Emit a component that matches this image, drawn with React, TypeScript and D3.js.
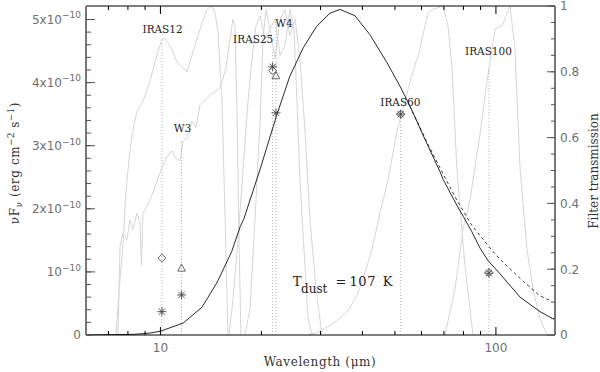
import React from 'react';
import * as d3 from 'd3';

// ---------- data (wavelength in micron) ----------
// filter transmission curves [wavelength, transmission]
const iras12Filter: [number, number][] = [
  [7.37, 0], [7.58, 0.17], [7.73, 0.27], [7.84, 0.39], [7.95, 0.47], [8.11, 0.56], [8.23, 0.61],
  [8.51, 0.68], [8.87, 0.71], [9.31, 0.77], [9.63, 0.83], [10.11, 0.9], [10.32, 0.9], [10.68, 0.88],
  [11.2, 0.83], [12.0, 0.8], [12.5, 0.86], [13.12, 0.93], [13.77, 0.99], [14.25, 1.0], [14.54, 0.98],
  [14.85, 0.92], [15.26, 0.71], [15.58, 0.36], [15.9, 0],
];
const w3Filter: [number, number][] = [
  [7.47, 0], [7.58, 0.27], [7.73, 0.31], [7.95, 0.29], [8.11, 0.35], [8.28, 0.32], [8.51, 0.37],
  [8.69, 0.34], [8.78, 0.21], [8.87, 0.37], [9.31, 0.41], [9.63, 0.45], [10.11, 0.51], [10.46, 0.54],
  [10.83, 0.56], [11.05, 0.54], [11.44, 0.53], [11.68, 0.59], [12.08, 0.6], [12.42, 0.65], [12.76, 0.63],
  [13.12, 0.7], [14.05, 0.73], [15.05, 0.75], [15.68, 0.81], [16.12, 0.9], [16.46, 0.96], [16.68, 0.94],
  [16.91, 0.68], [17.15, 0.29], [17.38, 0],
];
const iras25Filter: [number, number][] = [
  [16.01, 0], [16.46, 0.11], [17.03, 0.29], [17.62, 0.5], [18.24, 0.71], [18.75, 0.84], [19.27, 0.94],
  [19.81, 0.97], [20.5, 0.9], [21.21, 0.93], [21.95, 0.84], [22.72, 0.96], [23.51, 0.99], [24.33, 0.91],
  [25.18, 0.96], [26.06, 0.84], [26.97, 0.62], [27.91, 0.35], [29.09, 0.14], [30.31, 0],
];
const w4Filter: [number, number][] = [
  [17.87, 0], [18.49, 0.08], [19.14, 0.35], [19.81, 0.65], [20.22, 0.9], [20.64, 0.99], [21.21, 0.93],
  [21.95, 0.96], [22.72, 0.85], [23.51, 0.88], [24.33, 0.99], [25.01, 0.93], [25.53, 0.71], [26.06, 0.47],
  [26.79, 0.26], [27.53, 0.05], [28.3, 0],
];
const iras60Filter: [number, number][] = [
  [27.34, 0], [29.89, 0.01], [33.13, 0.04], [35.98, 0.07], [38.54, 0.12], [40.71, 0.19], [42.71, 0.26],
  [45.12, 0.37], [47.67, 0.47], [50.71, 0.62], [53.57, 0.71], [55.44, 0.77], [59.38, 0.87], [62.73, 0.98],
  [64.92, 0.99], [69.54, 1.0], [71.96, 0.94], [73.97, 0.81], [76.55, 0.5], [80.87, 0.21], [85.44, 0],
];
const iras100Filter: [number, number][] = [
  [70.5, 0], [75.5, 0.14], [79.77, 0.32], [83.7, 0.41], [89.64, 0.61], [94.06, 0.77], [99.37, 0.93],
  [104.25, 0.94], [110.14, 1.0], [113.98, 0.87], [117.96, 0.51], [123.77, 0.26], [128.97, 0.14],
  [135.32, 0.05], [141.97, 0],
];
const filterCurves = [iras12Filter, w3Filter, iras25Filter, w4Filter, iras60Filter, iras100Filter];

// model SED (nuF_nu in units of 1e-10 erg cm^-2 s^-1)
const sedSolid: [number, number][] = [
  [6.0, 0.0], [8.3, 0.01], [9.3, 0.03], [10.0, 0.06], [11.7, 0.19], [13.3, 0.44], [14.7, 0.82],
  [15.05, 0.93], [16.3, 1.32], [17.3, 1.72], [17.7, 1.83], [19.8, 2.62], [22.2, 3.48], [24.3, 4.1],
  [26.7, 4.56], [29.2, 4.89], [32.0, 5.1], [34.3, 5.16], [38.0, 5.06], [42.1, 4.76], [47.3, 4.32],
  [51.8, 3.94], [55.4, 3.63], [57.4, 3.45], [62.2, 3.04], [68.1, 2.59], [69.7, 2.46], [76.4, 2.06],
  [79.9, 1.88], [84.7, 1.64], [89.6, 1.38], [94.7, 1.18], [102.8, 0.97], [118.0, 0.6], [135.3, 0.37],
  [150.0, 0.24],
];
const sedDashed: [number, number][] = [
  [55.4, 3.63], [62.2, 3.06], [68.1, 2.65], [76.4, 2.14], [84.7, 1.74], [96.0, 1.38], [102.8, 1.2],
  [120.7, 0.85], [135.3, 0.62], [146.0, 0.54],
];

// photometry
const irasBands = ['IRAS12', 'IRAS25', 'IRAS60', 'IRAS100'];
const irasWave = [10.1, 21.6, 52, 95.3];
const irasObserved = [1.22, 4.19, 3.5, 0.99];
const irasModel = [0.37, 4.25, 3.5, 0.98];
const irasLabelWave = [10.15, 18.9, 51.9, 95.0];
const irasLabelFlux = [4.79, 4.62, 3.63, 4.43];
const irasGuideTop = [4.67, 4.52, 3.41, 4.2];

const wiseBands = ['W3', 'W4'];
const wiseWave = [11.56, 22.1];
const wiseObserved = [1.06, 4.11];
const wiseModel = [0.635, 3.52];
const wiseLabelWave = [11.63, 23.34];
const wiseLabelFlux = [3.21, 4.886];
const wiseGuideTop = [3.09, 4.83];

// axes
const fluxTicks = [0, 1, 2, 3, 4, 5];
const fluxTickMain = ['0', '10', '2x10', '3x10', '4x10', '5x10'];
const fluxTickExp = ['', '\u221210', '\u221210', '\u221210', '\u221210', '\u221210'];
const fluxMinorTicks = d3.range(0, 52, 2).map((v) => v / 10);
const transTicks = [0, 0.2, 0.4, 0.6, 0.8, 1];
const transTickLabels = ['0', '0.2', '0.4', '0.6', '0.8', '1'];
const transMinorTicks = d3.range(0, 21).map((v) => v / 20);
const waveTicks = [10, 100];
const waveTickLabels = ['10', '100'];
const waveMinorTicks = [7, 8, 9, 20, 30, 40, 50, 60, 70, 80, 90];

const W = 600;
const H = 372;
const L = 86, R = 555, T = 6, B = 335;

const serif = '"DejaVu Serif", serif';
const sans = '"DejaVu Sans", sans-serif';

function Asterisk({ cx, cy }: { cx: number; cy: number }) {
  const r = 4.5;
  return (
    <g stroke="#444" strokeWidth={0.9}>
      {[0, 45, 90, 135].map((a) => {
        const t = (a * Math.PI) / 180;
        return (
          <line key={a} x1={cx - r * Math.cos(t)} y1={cy - r * Math.sin(t)} x2={cx + r * Math.cos(t)} y2={cy + r * Math.sin(t)} />
        );
      })}
    </g>
  );
}

export default function App() {
  const x = d3.scaleLog().domain([6, 150]).range([L, R]);
  const yF = d3.scaleLinear().domain([0, 5.214]).range([B, T]);
  const yT = d3.scaleLinear().domain([0, 1]).range([B, T]);

  const filterLine = d3.line<[number, number]>().x((d) => x(d[0])).y((d) => yT(d[1]));
  const sedLine = d3.line<[number, number]>().x((d) => x(d[0])).y((d) => yF(d[1]));

  return (
    <svg width={W} height={H} style={{ position: 'fixed', left: 0, top: 0, background: '#fff' }}>
      <defs>
        <clipPath id="plot">
          <rect x={L} y={T} width={R - L} height={B - T} />
        </clipPath>
      </defs>
      <rect x={0} y={0} width={W} height={H} fill="#fff" />
      <g clipPath="url(#plot)">
        {filterCurves.map((c, i) => (
          <path key={i} d={filterLine(c) || ''} fill="none" stroke="#d6d6d6" strokeWidth={1} />
        ))}
        {irasWave.map((w, i) => (
          <line key={'gi' + i} x1={x(w)} x2={x(w)} y1={yF(0)} y2={yF(irasGuideTop[i])} stroke="#b5b5b5" strokeDasharray="1,2" />
        ))}
        {wiseWave.map((w, i) => (
          <line key={'gw' + i} x1={x(w)} x2={x(w)} y1={yF(0)} y2={yF(wiseGuideTop[i])} stroke="#b5b5b5" strokeDasharray="1,2" />
        ))}
        <path d={sedLine(sedDashed) || ''} fill="none" stroke="#222" strokeWidth={0.9} strokeDasharray="3,3" />
        <path d={sedLine(sedSolid) || ''} fill="none" stroke="#111" strokeWidth={0.9} />
      </g>

      {/* photometry */}
      {irasWave.map((w, i) => {
        const cx = x(w);
        const cy = yF(irasObserved[i]);
        return (
          <polygon key={'d' + i} points={`${cx},${cy - 4} ${cx + 4},${cy} ${cx},${cy + 4} ${cx - 4},${cy}`} fill="none" stroke="#555" strokeWidth={0.9} />
        );
      })}
      {wiseWave.map((w, i) => {
        const cx = x(w);
        const cy = yF(wiseObserved[i]);
        return (
          <polygon key={'t' + i} points={`${cx},${cy - 4} ${cx + 3.8},${cy + 3} ${cx - 3.8},${cy + 3}`} fill="none" stroke="#555" strokeWidth={0.9} />
        );
      })}
      {irasWave.map((w, i) => <Asterisk key={'ai' + i} cx={x(w)} cy={yF(irasModel[i])} />)}
      {wiseWave.map((w, i) => <Asterisk key={'aw' + i} cx={x(w)} cy={yF(wiseModel[i])} />)}

      {/* band labels */}
      {irasBands.map((b, i) => (
        <text key={b} x={x(irasLabelWave[i])} y={yF(irasLabelFlux[i])} textAnchor="middle" fontFamily={serif} fontSize={10.5} fill="#222">{b}</text>
      ))}
      {wiseBands.map((b, i) => (
        <text key={b} x={x(wiseLabelWave[i])} y={yF(wiseLabelFlux[i])} textAnchor="middle" fontFamily={serif} fontSize={10.5} fill="#222">{b}</text>
      ))}

      {/* T_dust annotation */}
      <g fontFamily={serif} fill="#222">
        <text x={292.7} y={286} fontSize={13}>T</text>
        <text x={301} y={292.5} fontSize={12}>dust</text>
        <text x={335.5} y={286} fontSize={13}>=</text>
        <text x={349.5} y={286} fontSize={13} letterSpacing={0.6}>107</text>
        <text x={382.7} y={286} fontSize={13}>K</text>
      </g>

      {/* frame */}
      <line x1={L} x2={R} y1={T} y2={T} stroke="#000" strokeWidth={1} />
      <line x1={L} x2={R} y1={B} y2={B} stroke="#000" strokeWidth={1} />
      <line x1={L} x2={L} y1={T} y2={B} stroke="#777" strokeWidth={2} />
      <line x1={R} x2={R} y1={T} y2={B} stroke="#777" strokeWidth={2} />

      {/* x ticks */}
      {waveTicks.map((w) => (
        <g key={'xt' + w} stroke="#000">
          <line x1={x(w)} x2={x(w)} y1={B} y2={B - 8} />
          <line x1={x(w)} x2={x(w)} y1={T} y2={T + 8} />
        </g>
      ))}
      {waveMinorTicks.map((w) => (
        <g key={'xm' + w} stroke="#000">
          <line x1={x(w)} x2={x(w)} y1={B} y2={B - 4} />
          <line x1={x(w)} x2={x(w)} y1={T} y2={T + 4} />
        </g>
      ))}
      {waveTicks.map((w, i) => (
        <text key={'xl' + w} x={x(w)} y={352} textAnchor="middle" fontFamily={sans} fontSize={12} fill="#707070">{waveTickLabels[i]}</text>
      ))}

      {/* left flux axis */}
      {fluxMinorTicks.map((v) => (
        <line key={'fm' + v} x1={L} x2={L + 5} y1={yF(v)} y2={yF(v)} stroke="#555" />
      ))}
      {fluxTicks.map((v, i) => (
        <g key={'ft' + v}>
          <line x1={L} x2={L + 9} y1={yF(v)} y2={yF(v)} stroke="#555" />
          <text x={81} y={yF(v) + 4.3} textAnchor="end" fontFamily={sans} fontSize={12} fill="#707070">
            {fluxTickMain[i]}
            {fluxTickExp[i] ? <tspan fontSize={9} dy={-5.5}>{fluxTickExp[i]}</tspan> : null}
          </text>
        </g>
      ))}

      {/* right transmission axis */}
      {transMinorTicks.map((v) => (
        <line key={'tm' + v} x1={R} x2={R - 4} y1={yT(v)} y2={yT(v)} stroke="#555" />
      ))}
      {transTicks.map((v, i) => (
        <g key={'tt' + v}>
          <line x1={R} x2={R - 8} y1={yT(v)} y2={yT(v)} stroke="#555" />
          <text x={560} y={yT(v) + 4.3} fontFamily={sans} fontSize={12} fill="#707070">{transTickLabels[i]}</text>
        </g>
      ))}

      {/* axis titles */}
      <text x={320} y={366} textAnchor="middle" fontFamily={serif} fontSize={12} letterSpacing={0.6} fill="#333">
        Wavelength (μm)
      </text>
      <text transform="translate(19,163) rotate(-90)" textAnchor="middle" fontFamily={serif} fontSize={12} letterSpacing={0.6} fill="#333">
        νF<tspan fontSize={8.5} dy={3}>ν</tspan>
        <tspan dy={-3}> (erg cm</tspan>
        <tspan fontSize={8.5} dy={-5}>−2</tspan>
        <tspan dy={5}> s</tspan>
        <tspan fontSize={8.5} dy={-5}>−1</tspan>
        <tspan dy={5}>)</tspan>
      </text>
      <text transform="translate(598,171) rotate(-90)" textAnchor="middle" fontFamily={serif} fontSize={12} fill="#333">
        Filter  transmission
      </text>
    </svg>
  );
}
